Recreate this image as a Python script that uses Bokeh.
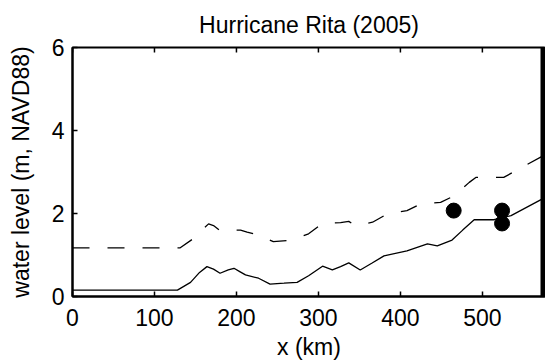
import math
from bokeh.plotting import figure
from bokeh.models import FixedTicker, Span, Range1d
from bokeh.embed import file_html
from bokeh.resources import INLINE

# --- data ---
model_x = [0, 128, 144, 155, 164, 172, 180, 190, 197, 204, 211, 227, 241, 258, 274, 288,
           305, 317, 327, 337, 351, 365, 380, 408, 433, 445, 463, 476, 490, 514, 535, 575]
model_y = [0.155, 0.155, 0.34, 0.58, 0.72, 0.66, 0.56, 0.64, 0.68, 0.60, 0.52, 0.44, 0.30, 0.32,
           0.34, 0.50, 0.73, 0.64, 0.72, 0.81, 0.64, 0.80, 0.98, 1.10, 1.27, 1.22, 1.36, 1.60,
           1.85, 1.85, 1.95, 2.37]
upper_x = [0, 131, 150, 158, 166, 172, 180, 190, 205, 213, 225, 245, 268, 288, 305, 327, 337,
           345, 366, 384, 408, 425, 449, 465, 484, 492, 526, 547, 575]
upper_y = [1.17, 1.17, 1.43, 1.60, 1.75, 1.71, 1.59, 1.60, 1.60, 1.55, 1.49, 1.32, 1.36, 1.51,
           1.76, 1.78, 1.81, 1.71, 1.79, 1.99, 2.07, 2.23, 2.27, 2.42, 2.75, 2.87, 2.87, 3.10, 3.40]
obs_x = [465, 524, 524]
obs_y = [2.07, 2.07, 1.76]
x_ticks = [0, 100, 200, 300, 400, 500]
y_ticks = [0, 2, 4, 6]
X_END = 577
Y_END = 6

FONT = "Liberation Sans"
FS = "23px"

p = figure(width=545, height=363, output_backend="svg", toolbar_location=None,
           x_range=Range1d(0, X_END), y_range=Range1d(0, Y_END),
           min_border_left=72, min_border_right=0, min_border_top=47, min_border_bottom=67,
           title="Hurricane Rita (2005)")
p.title.align = "center"
p.title.text_font = FONT
p.title.text_font_size = FS
p.title.text_font_style = "normal"
p.title.text_color = "black"
p.title.standoff = 19

p.grid.visible = False
p.outline_line_color = "black"
p.outline_line_width = 2
p.background_fill_color = "white"
p.border_fill_color = "white"

for ax in (p.xaxis[0], p.yaxis[0]):
    ax.major_tick_in = 5
    ax.major_tick_out = 0
    ax.minor_tick_line_color = None
    ax.axis_line_width = 2
    ax.axis_line_color = "black"
    ax.major_tick_line_width = 1.5
    ax.major_label_text_font = FONT
    ax.major_label_text_font_size = FS
    ax.major_label_text_color = "black"
    ax.axis_label_text_font = FONT
    ax.axis_label_text_font_size = FS
    ax.axis_label_text_font_style = "normal"
    ax.axis_label_text_color = "black"

p.xaxis.ticker = FixedTicker(ticks=x_ticks)
p.yaxis.ticker = FixedTicker(ticks=y_ticks)
p.xaxis.axis_label = "x (km)"
p.yaxis.axis_label = "water level (m, NAVD88)"
p.xaxis.major_label_standoff = 12
p.xaxis.axis_label_standoff = 5
p.yaxis.major_label_standoff = 8
p.yaxis.axis_label_standoff = 15

# top tick marks (inward), clipped by the frame
p.scatter(x_ticks, [Y_END] * len(x_ticks), marker="dash", size=10, angle=math.pi / 2,
          line_color="black", line_width=1.5)

p.line(upper_x, upper_y, line_color="black", line_width=1.3, line_dash="17 18")
p.line(model_x, model_y, line_color="black", line_width=1.3)
p.scatter(obs_x, obs_y, size=15, marker="circle", fill_color="black", line_color="black")

p.add_layout(Span(location=X_END, dimension="height", line_color="black", line_width=10))

open("out.html", "w").write(file_html(p, INLINE))
